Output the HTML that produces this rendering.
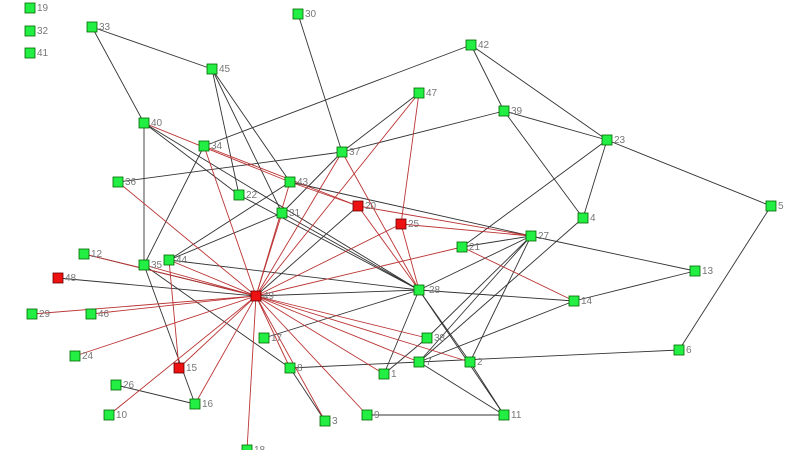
<!DOCTYPE html>
<html><head><meta charset="utf-8"><style>body{margin:0;background:#fff}svg{display:block}text{font-family:"Liberation Sans",sans-serif;font-size:10px;fill:#777}</style></head><body>
<svg width="800" height="450" viewBox="0 0 800 450">
<g stroke="#333" stroke-width="0.9" fill="none">
<line x1="92" y1="27" x2="212" y2="69"/><line x1="92" y1="27" x2="144" y2="123"/>
<line x1="144" y1="123" x2="144" y2="265"/><line x1="212" y1="69" x2="239" y2="195"/>
<line x1="212" y1="69" x2="282" y2="213"/><line x1="212" y1="69" x2="290" y2="182"/>
<line x1="298" y1="14" x2="342" y2="152"/><line x1="471" y1="45" x2="204" y2="146"/>
<line x1="471" y1="45" x2="504" y2="111"/><line x1="471" y1="45" x2="607" y2="140"/>
<line x1="504" y1="111" x2="342" y2="152"/><line x1="504" y1="111" x2="583" y2="218"/>
<line x1="504" y1="111" x2="607" y2="140"/><line x1="607" y1="140" x2="771" y2="206"/>
<line x1="607" y1="140" x2="583" y2="218"/><line x1="607" y1="140" x2="462" y2="247"/>
<line x1="771" y1="206" x2="679" y2="350"/><line x1="419" y1="93" x2="342" y2="152"/>
<line x1="144" y1="123" x2="419" y2="290"/><line x1="144" y1="123" x2="239" y2="195"/>
<line x1="204" y1="146" x2="144" y2="265"/><line x1="239" y1="195" x2="419" y2="290"/>
<line x1="118" y1="182" x2="342" y2="152"/><line x1="342" y1="152" x2="282" y2="213"/>
<line x1="290" y1="182" x2="531" y2="236"/><line x1="282" y1="213" x2="169" y2="260"/><line x1="290" y1="182" x2="169" y2="260"/>
<line x1="282" y1="213" x2="419" y2="290"/><line x1="531" y1="236" x2="695" y2="271"/>
<line x1="531" y1="236" x2="427" y2="338"/><line x1="531" y1="236" x2="419" y2="362"/>
<line x1="531" y1="236" x2="470" y2="362"/><line x1="531" y1="236" x2="419" y2="290"/>
<line x1="583" y1="218" x2="419" y2="362"/><line x1="695" y1="271" x2="574" y2="301"/>
<line x1="574" y1="301" x2="419" y2="290"/><line x1="574" y1="301" x2="419" y2="362"/>
<line x1="419" y1="290" x2="470" y2="362"/><line x1="419" y1="290" x2="504" y2="415"/>
<line x1="419" y1="290" x2="384" y2="374"/><line x1="419" y1="290" x2="256" y2="296"/>
<line x1="419" y1="290" x2="264" y2="338"/><line x1="679" y1="350" x2="419" y2="362"/>
<line x1="419" y1="362" x2="504" y2="415"/><line x1="290" y1="368" x2="419" y2="362"/>
<line x1="470" y1="362" x2="504" y2="415"/><line x1="427" y1="338" x2="384" y2="374"/>
<line x1="367" y1="415" x2="504" y2="415"/><line x1="84" y1="254" x2="256" y2="296"/>
<line x1="58" y1="278" x2="256" y2="296"/><line x1="144" y1="265" x2="195" y2="404"/>
<line x1="144" y1="265" x2="290" y2="368"/><line x1="169" y1="260" x2="419" y2="290"/>
<line x1="116" y1="385" x2="195" y2="404"/><line x1="290" y1="368" x2="325" y2="421"/>
<line x1="256" y1="296" x2="358" y2="206"/><line x1="462" y1="247" x2="531" y2="236"/>
</g>
<g stroke="#b33" stroke-width="0.9" fill="none">
<line x1="256" y1="296" x2="419" y2="93"/><line x1="401" y1="224" x2="419" y2="93"/>
<line x1="256" y1="296" x2="342" y2="152"/><line x1="256" y1="296" x2="118" y2="182"/>
<line x1="256" y1="296" x2="204" y2="146"/><line x1="256" y1="296" x2="282" y2="213"/>
<line x1="256" y1="296" x2="290" y2="182"/><line x1="144" y1="123" x2="290" y2="182"/>
<line x1="204" y1="146" x2="358" y2="206"/><line x1="290" y1="182" x2="358" y2="206"/>
<line x1="358" y1="206" x2="531" y2="236"/><line x1="401" y1="224" x2="531" y2="236"/>
<line x1="462" y1="247" x2="574" y2="301"/><line x1="342" y1="152" x2="419" y2="290"/><line x1="256" y1="296" x2="462" y2="247"/>
<line x1="256" y1="296" x2="401" y2="224"/><line x1="256" y1="296" x2="84" y2="254"/>
<line x1="256" y1="296" x2="144" y2="265"/><line x1="256" y1="296" x2="169" y2="260"/>
<line x1="256" y1="296" x2="32" y2="314"/><line x1="256" y1="296" x2="91" y2="314"/>
<line x1="256" y1="296" x2="75" y2="356"/><line x1="256" y1="296" x2="109" y2="415"/>
<line x1="256" y1="296" x2="179" y2="368"/><line x1="256" y1="296" x2="195" y2="404"/>
<line x1="256" y1="296" x2="247" y2="450"/><line x1="256" y1="296" x2="325" y2="421"/>
<line x1="256" y1="296" x2="367" y2="415"/><line x1="256" y1="296" x2="384" y2="374"/>
<line x1="256" y1="296" x2="419" y2="362"/><line x1="256" y1="296" x2="427" y2="338"/>
<line x1="256" y1="296" x2="470" y2="362"/><line x1="256" y1="296" x2="290" y2="368"/>
<line x1="169" y1="260" x2="179" y2="368"/><line x1="358" y1="206" x2="419" y2="290"/><line x1="401" y1="224" x2="419" y2="290"/>
</g>
<g stroke="#060" stroke-width="0.8" fill="#22ee44">
<rect x="25" y="3" width="10" height="10"/><rect x="25" y="26" width="10" height="10"/><rect x="25" y="48" width="10" height="10"/>
<rect x="87" y="22" width="10" height="10"/><rect x="293" y="9" width="10" height="10"/><rect x="466" y="40" width="10" height="10"/>
<rect x="207" y="64" width="10" height="10"/><rect x="414" y="88" width="10" height="10"/><rect x="499" y="106" width="10" height="10"/>
<rect x="139" y="118" width="10" height="10"/><rect x="199" y="141" width="10" height="10"/><rect x="337" y="147" width="10" height="10"/>
<rect x="602" y="135" width="10" height="10"/><rect x="113" y="177" width="10" height="10"/><rect x="285" y="177" width="10" height="10"/>
<rect x="234" y="190" width="10" height="10"/><rect x="766" y="201" width="10" height="10"/><rect x="277" y="208" width="10" height="10"/>
<rect x="578" y="213" width="10" height="10"/><rect x="526" y="231" width="10" height="10"/><rect x="457" y="242" width="10" height="10"/>
<rect x="79" y="249" width="10" height="10"/><rect x="164" y="255" width="10" height="10"/><rect x="139" y="260" width="10" height="10"/>
<rect x="690" y="266" width="10" height="10"/><rect x="414" y="285" width="10" height="10"/><rect x="569" y="296" width="10" height="10"/>
<rect x="27" y="309" width="10" height="10"/><rect x="86" y="309" width="10" height="10"/><rect x="259" y="333" width="10" height="10"/>
<rect x="422" y="333" width="10" height="10"/><rect x="674" y="345" width="10" height="10"/><rect x="70" y="351" width="10" height="10"/>
<rect x="414" y="357" width="10" height="10"/><rect x="465" y="357" width="10" height="10"/><rect x="285" y="363" width="10" height="10"/>
<rect x="379" y="369" width="10" height="10"/><rect x="111" y="380" width="10" height="10"/><rect x="190" y="399" width="10" height="10"/>
<rect x="104" y="410" width="10" height="10"/><rect x="362" y="410" width="10" height="10"/><rect x="499" y="410" width="10" height="10"/>
<rect x="320" y="416" width="10" height="10"/><rect x="242" y="445" width="10" height="10"/>
</g>
<g stroke="#600" stroke-width="0.8" fill="#ee1111">
<rect x="353" y="201" width="10" height="10"/><rect x="396" y="219" width="10" height="10"/><rect x="53" y="273" width="10" height="10"/>
<rect x="251" y="291" width="10" height="10"/><rect x="174" y="363" width="10" height="10"/>
</g>
<g>
<text x="37" y="11">19</text><text x="37" y="34">32</text><text x="37" y="56">41</text><text x="99" y="30">33</text>
<text x="305" y="17">30</text><text x="478" y="48">42</text><text x="219" y="72">45</text><text x="426" y="96">47</text>
<text x="511" y="114">39</text><text x="151" y="126">40</text><text x="211" y="149">34</text><text x="349" y="155">37</text>
<text x="614" y="143">23</text><text x="125" y="185">36</text><text x="297" y="185">43</text><text x="246" y="198">22</text>
<text x="778" y="209">5</text><text x="289" y="216">31</text><text x="590" y="221">4</text><text x="538" y="239">27</text>
<text x="469" y="250">21</text><text x="91" y="257">12</text><text x="176" y="263">44</text><text x="151" y="268">35</text>
<text x="702" y="274">13</text><text x="429" y="293">28</text><text x="581" y="304">14</text><text x="39" y="317">29</text>
<text x="98" y="317">46</text><text x="271" y="341">17</text><text x="434" y="341">38</text><text x="686" y="353">6</text>
<text x="82" y="359">24</text><text x="426" y="365">7</text><text x="477" y="365">2</text><text x="297" y="371">8</text>
<text x="391" y="377">1</text><text x="123" y="388">26</text><text x="202" y="407">16</text><text x="116" y="418">10</text>
<text x="374" y="418">9</text><text x="511" y="418">11</text><text x="332" y="424">3</text><text x="254" y="453">18</text>
<text x="365" y="209">20</text><text x="408" y="227">25</text><text x="65" y="281">48</text><text x="263" y="299">49</text><text x="186" y="371">15</text>
</g>
</svg>
</body></html>
